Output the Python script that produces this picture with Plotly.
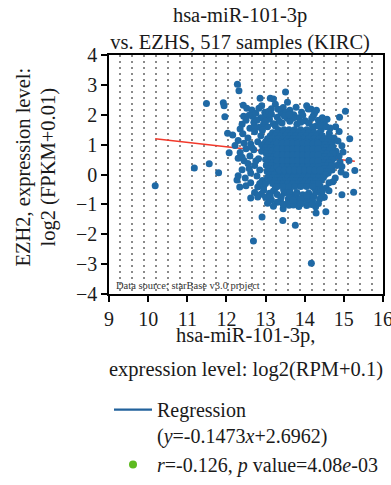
import plotly.graph_objects as go
import numpy as np

# ---------------- data ----------------
title_lines = ["hsa-miR-101-3p", "vs. EZHS, 517 samples (KIRC)"]
x_title_lines = ["hsa-miR-101-3p,", "expression level: log2(RPM+0.1)"]
y_title_lines = ["EZH2, expression level:", "log2 (FPKM+0.01)"]
x_ticks = [9, 10, 11, 12, 13, 14, 15, 16]
y_ticks = [-4, -3, -2, -1, 0, 1, 2, 3, 4]
slope = -0.1473
intercept = 2.6962
stats_label = "<i>r</i>=-0.126, <i>p</i> value=4.08<i>e</i>-03"
source_label = "Data source: starBase v3.0 project"

# (miRNA log2 expression, EZH2 log2 expression)
outliers = [
    (10.18, -0.38), (11.18, 0.22), (11.56, 0.36), (11.80, 0.06), (11.49, 2.38),
    (11.92, 2.40), (11.94, 2.30), (11.96, 1.93), (12.03, 1.38), (12.16, 1.32),
    (12.07, 0.73), (12.28, 3.02), (12.32, 2.80), (12.43, 2.32), (12.44, 1.95),
    (12.27, -0.18), (12.34, -0.42), (12.62, -0.79), (12.69, -2.23), (12.91, -1.42),
    (13.44, -1.54), (13.76, -1.70), (14.17, -2.97), (14.29, -1.29), (14.54, -1.25),
    (13.51, 2.76), (13.56, 2.42), (12.86, 2.55), (13.12, 2.55), (13.20, 2.53),
    (15.04, 2.12), (14.89, 1.92), (14.57, 1.85), (15.15, 1.20), (15.13, 0.47),
    (15.28, 0.13), (15.25, -0.59), (14.95, -0.68), (15.05, -0.01), (14.93, 0.08),
    (14.79, 1.60), (13.45, -1.15),
]

top_edge = [
    (12.52, 2.22), (12.65, 2.16), (12.67, 1.94), (12.83, 2.22), (12.98, 2.08), (13.00, 1.98),
    (13.25, 2.35), (13.15, 2.20), (13.45, 2.24), (13.40, 2.05), (13.62, 2.15), (13.72, 2.00),
    (13.85, 1.90), (14.09, 2.19), (14.16, 2.19), (14.22, 1.97), (14.35, 1.82), (14.01, 1.80),
    (13.55, 1.88), (13.30, 1.92), (13.10, 1.85), (12.88, 1.90), (12.58, 1.98), (12.70, 1.75),
    (12.40, 1.68), (12.95, 1.70), (13.20, 1.70), (13.42, 1.72), (13.62, 1.78), (13.80, 1.68),
    (14.10, 1.72), (14.30, 1.62), (14.50, 1.72), (14.45, 1.90), (12.60, 1.55), (12.85, 1.58),
    (13.05, 1.60), (14.65, 1.56), (14.42, 1.50), (12.35, 1.52), (13.92, 2.08), (14.25, 2.05),
    (12.75, 2.05), (12.90, 2.30), (13.08, 2.12), (13.32, 2.18), (13.52, 2.08), (13.78, 2.25),
    (13.95, 1.98), (14.05, 2.30), (14.30, 2.15), (12.78, 1.82), (13.00, 1.78), (13.25, 1.62),
    (13.48, 1.96), (13.70, 1.88), (13.90, 1.75), (14.18, 1.88), (14.40, 1.65), (14.55, 1.60),
    (12.50, 1.82), (12.72, 1.62), (13.15, 2.02), (13.60, 2.00), (14.20, 1.60), (13.35, 1.78),
    (12.92, 1.48),
]

left_edge = [
    (12.22, 0.97), (12.30, 1.14), (12.42, 1.36), (12.55, 1.22), (12.72, 1.43), (12.80, 1.10),
    (12.62, 1.02), (12.88, 1.30), (12.50, 0.86), (12.70, 0.83), (12.35, 0.74), (12.60, 0.62),
    (12.82, 0.53), (12.45, 0.46), (12.30, 0.54), (12.72, 0.30), (12.55, 0.37), (12.40, 0.16),
    (12.85, 0.15), (12.62, 0.05), (12.30, -0.04), (12.48, -0.12), (12.78, -0.05), (12.62, -0.28),
    (12.50, -0.38), (12.80, -0.42), (12.72, -0.60), (12.90, 0.78), (12.92, -0.20), (12.90, 1.00),
    (12.65, 0.90), (12.45, 1.05), (12.75, 0.45), (12.58, 0.20), (12.85, -0.30), (12.40, 0.58),
]

right_edge = [
    (14.63, 1.38), (14.75, 1.22), (14.88, 1.44), (14.70, 1.05), (14.85, 1.12), (14.72, 0.92),
    (14.95, 0.96), (14.80, 0.78), (14.65, 0.70), (14.88, 0.62), (14.75, 0.55), (14.90, 0.42),
    (14.68, 0.42), (14.82, 0.30), (14.95, 0.27), (14.70, 0.15), (14.60, 0.05), (14.78, -0.12),
    (14.62, -0.28), (14.72, -0.24), (14.55, -0.45), (14.62, -0.54), (14.50, -0.76), (14.60, 1.22),
    (14.98, 0.75),
]

bottom_edge = [
    (13.00, -0.76), (12.88, -0.66), (12.95, -0.53), (13.10, -0.63), (13.20, -0.55), (13.30, -0.67),
    (13.15, -0.85), (13.38, -0.87), (13.48, -0.62), (13.46, -0.51), (13.58, -0.82), (13.65, -0.66),
    (13.62, -0.72), (13.78, -0.76), (13.80, -0.60), (13.95, -0.68), (13.80, -0.86), (14.00, -0.84),
    (14.10, -0.62), (14.12, -0.78), (14.23, -0.74), (14.28, -0.60), (14.42, -0.64), (14.38, -0.82),
    (14.20, -0.88), (13.05, -0.96), (13.30, -0.93), (13.55, -0.97), (13.75, -0.92), (14.10, -0.96),
    (14.35, -0.97), (13.20, -1.06), (13.60, -1.03), (13.71, -1.02), (13.85, -1.07), (14.05, -1.04),
    (14.28, -1.08), (14.40, -0.40), (14.30, -0.50),
    (12.95, -0.42), (13.12, -0.72), (13.40, -0.75), (13.70, -0.85), (13.90, -0.80), (14.05, -0.70),
    (14.25, -0.45), (13.25, -0.45), (13.62, -0.55), (14.45, -0.55), (13.00, -0.30), (13.90, -0.98),
    (14.18, -1.00), (13.45, -1.00), (12.80, -0.75),
]

# dense core of the cloud: (EZH2 level, miRNA levels of samples at that level)
core_rows = [
    (1.50, [13.32, 13.47, 13.60, 13.74, 13.90, 14.05, 14.20]),
    (1.40, [13.18, 13.30, 13.44, 13.58, 13.70, 13.84, 13.97, 14.10, 14.24, 14.38]),
    (1.30, [13.12, 13.25, 13.38, 13.52, 13.64, 13.78, 13.90, 14.04, 14.17, 14.30, 14.45]),
    (1.20, [13.05, 13.18, 13.32, 13.45, 13.58, 13.70, 13.84, 13.97, 14.10, 14.24, 14.37, 14.50]),
    (1.10, [13.00, 13.12, 13.26, 13.40, 13.52, 13.65, 13.78, 13.90, 14.04, 14.17, 14.30, 14.44, 14.58]),
    (1.00, [13.06, 13.20, 13.33, 13.46, 13.58, 13.72, 13.85, 13.98, 14.10, 14.24, 14.38, 14.52, 14.66]),
    (0.90, [13.00, 13.13, 13.26, 13.39, 13.52, 13.65, 13.78, 13.91, 14.04, 14.17, 14.30, 14.43, 14.56, 14.70]),
    (0.80, [13.05, 13.18, 13.32, 13.45, 13.58, 13.70, 13.84, 13.97, 14.10, 14.24, 14.37, 14.50, 14.63]),
    (0.70, [13.02, 13.14, 13.27, 13.40, 13.53, 13.66, 13.79, 13.92, 14.05, 14.18, 14.31, 14.44, 14.57, 14.72]),
    (0.60, [13.08, 13.21, 13.34, 13.47, 13.60, 13.73, 13.86, 13.99, 14.12, 14.25, 14.38, 14.51, 14.64]),
    (0.50, [13.00, 13.13, 13.26, 13.39, 13.52, 13.65, 13.78, 13.91, 14.04, 14.17, 14.30, 14.43, 14.56, 14.70]),
    (0.40, [13.06, 13.19, 13.32, 13.45, 13.58, 13.71, 13.84, 13.97, 14.10, 14.23, 14.36, 14.49, 14.62]),
    (0.30, [13.02, 13.15, 13.28, 13.41, 13.54, 13.67, 13.80, 13.93, 14.06, 14.19, 14.32, 14.45, 14.58, 14.70]),
    (0.20, [13.08, 13.21, 13.34, 13.47, 13.60, 13.73, 13.86, 13.99, 14.12, 14.25, 14.38, 14.51, 14.64]),
    (0.10, [13.04, 13.17, 13.30, 13.43, 13.56, 13.69, 13.82, 13.95, 14.08, 14.21, 14.34, 14.47, 14.60]),
    (0.00, [13.10, 13.23, 13.36, 13.49, 13.62, 13.75, 13.88, 14.01, 14.14, 14.27, 14.40, 14.53]),
    (-0.10, [13.05, 13.18, 13.31, 13.44, 13.57, 13.70, 13.83, 13.96, 14.09, 14.22, 14.35, 14.48]),
    (-0.20, [13.12, 13.25, 13.38, 13.51, 13.64, 13.77, 13.90, 14.03, 14.16, 14.29, 14.42]),
    (-0.30, [13.18, 13.31, 13.44, 13.57, 13.70, 13.83, 13.96, 14.09, 14.22, 14.35]),
    (-0.40, [13.30, 13.45, 13.60, 13.75, 13.90, 14.05, 14.20]),
    # heavily overlapping centre of the cloud
    (1.05, [13.30, 13.43, 13.56, 13.69, 13.82, 13.95, 14.08, 14.21, 14.34]),
    (0.85, [13.30, 13.43, 13.56, 13.69, 13.82, 13.95, 14.08, 14.21, 14.34]),
    (0.65, [13.30, 13.43, 13.56, 13.69, 13.82, 13.95, 14.08, 14.21, 14.34]),
    (0.45, [13.30, 13.43, 13.56, 13.69, 13.82, 13.95, 14.08, 14.21, 14.34]),
    (0.25, [13.30, 13.43, 13.56, 13.69, 13.82, 13.95, 14.08, 14.21, 14.34]),
    (0.15, [13.35, 13.48, 13.61, 13.74, 13.87, 14.00, 14.13, 14.26, 14.39]),
]

# ---------------- styling ----------------
FONT = "Liberation Serif"
TXT = "#1a1a1a"
BLUE = "#1f69a5"
RED = "#f2392b"
LEG_BLUE = "#22629c"
GREEN = "#5dba1f"

samples = outliers + top_edge + left_edge + right_edge + bottom_edge
for level, xs in core_rows:
    samples += [(xv, level) for xv in xs]
mir = np.array([p[0] for p in samples])
ezh2 = np.array([p[1] for p in samples])

x_line = np.array([mir.min(), mir.max()])
y_line = slope * x_line + intercept

fig = go.Figure()
fig.add_trace(go.Scatter(x=x_line, y=y_line, mode="lines",
                         line=dict(color=RED, width=1.6), showlegend=False, hoverinfo="skip"))
fig.add_trace(go.Scatter(x=mir, y=ezh2, mode="markers",
                         marker=dict(size=7, color=BLUE, line=dict(width=0)), showlegend=False))
# legend entries
fig.add_trace(go.Scatter(x=[None], y=[None], mode="lines", line=dict(color=LEG_BLUE, width=2.2),
                         name="Regression<br>(<i>y</i>=%.4f<i>x</i>+%.4f)" % (slope, intercept)))
fig.add_trace(go.Scatter(x=[None], y=[None], mode="markers", marker=dict(color=GREEN, size=8),
                         name=stats_label))

axis_common = dict(
    showline=True, mirror=True, linecolor="black", linewidth=1.5,
    ticks="outside", ticklen=6, tickwidth=1.5, tickcolor="black",
    tickfont=dict(family=FONT, size=20, color=TXT),
    showgrid=False, zeroline=False, ticklabeloverflow="allow",
)

fig.update_xaxes(range=[9, 16], tickvals=x_ticks, **axis_common,
                 minor=dict(tick0=9.281, dtick=0.3069, showgrid=True, gridcolor="#8a8a8a",
                            gridwidth=1.5, griddash="1.5px,4.5px", ticks=""))
fig.update_yaxes(range=[-4, 4], tickvals=y_ticks, **axis_common)

annotations = [
    dict(text=x_title_lines[0], xref="paper", yref="paper", x=0.5, y=0, yshift=-41,
         xanchor="center", yanchor="middle", showarrow=False,
         font=dict(family=FONT, size=20.5, color=TXT)),
    dict(text=x_title_lines[1], xref="paper", yref="paper", x=0.5, y=0, yshift=-75,
         xanchor="center", yanchor="middle", showarrow=False,
         font=dict(family=FONT, size=20.5, color=TXT)),
    dict(text=y_title_lines[0], xref="paper", yref="paper", x=0, xshift=-86, y=0.5, yshift=7,
         xanchor="center", yanchor="middle", textangle=-90, showarrow=False,
         font=dict(family=FONT, size=20.5, color=TXT)),
    dict(text=y_title_lines[1], xref="paper", yref="paper", x=0, xshift=-61, y=0.5, yshift=7,
         xanchor="center", yanchor="middle", textangle=-90, showarrow=False,
         font=dict(family=FONT, size=20.5, color=TXT)),
    dict(text=source_label, xref="x", yref="y", x=9.13, y=-4, yshift=1,
         xanchor="left", yanchor="bottom", showarrow=False,
         font=dict(family=FONT, size=10.5, color="#333333")),
]

fig.update_layout(
    width=391, height=485,
    margin=dict(l=109, r=8, t=55, b=191, autoexpand=False),
    paper_bgcolor="white", plot_bgcolor="white",
    title=dict(text="<br>".join(title_lines), xref="container", x=0.614, xanchor="center",
               yref="container", y=0.954, yanchor="top",
               font=dict(family=FONT, size=20.5, color=TXT)),
    annotations=annotations,
    legend=dict(x=0, xanchor="left", y=-0.402, yanchor="top", orientation="v",
                font=dict(family=FONT, size=20, color=TXT), itemwidth=38, valign="top",
                bgcolor="rgba(0,0,0,0)", tracegroupgap=0),
    showlegend=True,
)

fig.write_html("out.html")
